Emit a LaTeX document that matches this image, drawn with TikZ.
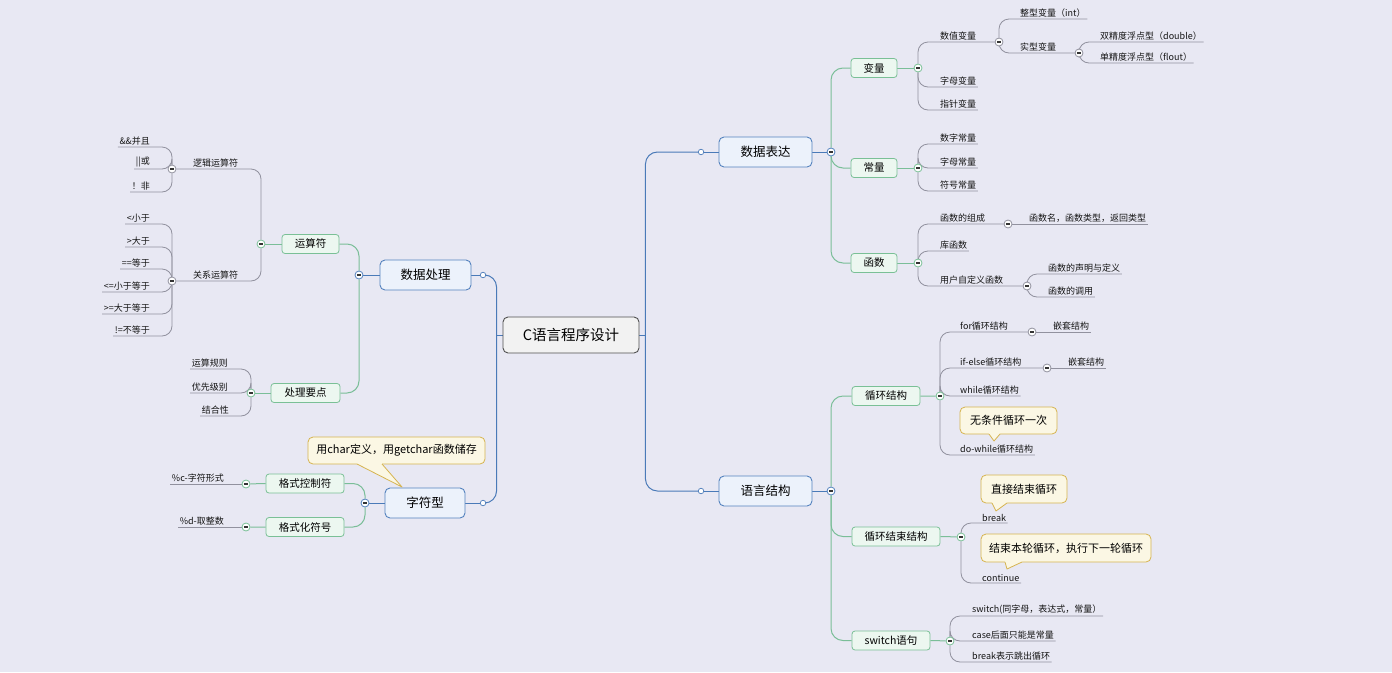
\documentclass[tikz,border=0pt]{standalone}
\usepackage{fontspec}
\setmainfont{Noto Sans CJK SC}
\usepackage{tikz}
\usetikzlibrary{positioning,calc}
\pgfdeclarelayer{bg}
\pgfdeclarelayer{wires}
\pgfsetlayers{bg,wires,main}

\definecolor{canvas}{RGB}{232,232,243}
\definecolor{blueline}{RGB}{74,122,184}
\definecolor{bluefill}{RGB}{236,242,251}
\definecolor{bluebd}{RGB}{84,130,190}
\definecolor{rootfill}{RGB}{242,242,242}
\definecolor{rootbd}{RGB}{80,80,80}
\definecolor{greenline}{RGB}{122,190,152}
\definecolor{greenfill}{RGB}{236,247,240}
\definecolor{greenbd}{RGB}{122,192,150}
\definecolor{grayline}{RGB}{145,145,158}
\definecolor{notefill}{RGB}{251,247,228}
\definecolor{noteline}{RGB}{214,180,80}

\tikzset{
  root/.style={draw=rootbd, fill=rootfill, rounded corners=5pt, line width=0.9pt,
    minimum width=136pt, minimum height=36pt, font=\fontsize{14.5}{16}\selectfont},
  topic/.style={draw=bluebd, fill=bluefill, rounded corners=5pt, line width=0.9pt,
    minimum height=30pt, inner sep=0pt, font=\fontsize{12.5}{14}\selectfont},
  sub/.style={draw=greenbd, fill=greenfill, rounded corners=3pt, line width=0.8pt,
    minimum height=19pt, inner sep=0pt, font=\fontsize{10.5}{12}\selectfont},
  leaf/.style={inner sep=1.5pt, font=\fontsize{9}{10}\selectfont, text=black!92},
  note/.style={draw=noteline, fill=notefill, rounded corners=5pt, line width=0.8pt,
    inner sep=0pt, outer sep=0pt, font=\fontsize{11}{12}\selectfont},
  fold/.style={circle, draw=#1, fill=white, line width=0.8pt, inner sep=0pt, minimum size=8pt,
    path picture={\draw[line width=1.2pt, black!80]
      ([xshift=-2.1pt]path picture bounding box.center) -- ([xshift=2.1pt]path picture bounding box.center);}},
  fold/.default=grayline,
  ring/.style={circle, draw=blueline, fill=white, line width=0.7pt, inner sep=0pt, minimum size=5.5pt},
  mainwire/.style={draw=blueline, line width=1pt, rounded corners=12pt},
  subwire/.style={draw=greenline, line width=1pt, rounded corners=12pt},
  leafwire/.style={draw=grayline, line width=0.8pt, rounded corners=10pt},
}

% tail of a note: node, left and right base offsets, tip
\newcommand{\notetail}[4]{%
  \fill[notefill] ([xshift=#2]#1.south west) -- (#4) -- ([xshift=#3]#1.south west)
    -- ([xshift=#3,yshift=1.5pt]#1.south west) -- ([xshift=#2,yshift=1.5pt]#1.south west) -- cycle;
  \draw[noteline, line width=0.8pt, line join=round]
    ([xshift=#2]#1.south west) -- (#4) -- ([xshift=#3]#1.south west);
}

\begin{document}
\begin{tikzpicture}[x=1pt,y=-1pt]
  \useasboundingbox (0,0) rectangle (1392,672);
  \begin{pgfonlayer}{bg}
    \fill[canvas] (0,0) rectangle (1392,672);
  \end{pgfonlayer}

  % centre and main topics
  \node[root] (root) at (571,335) {C语言程序设计};
  \node[topic, minimum width=93pt] (expr) at (765.5,152) {数据表达};
  \node[topic, minimum width=93pt] (lang) at (765.5,491) {语言结构};
  \node[topic, minimum width=91pt] (proc) at (425.5,275) {数据处理};
  \node[topic, minimum width=80pt] (char) at (425,503) {字符型};
  \node[ring] (rExpr) at (701,152) {};
  \node[ring] (rLang) at (701,491) {};
  \node[ring] (rProc) at (483,275) {};
  \node[ring] (rChar) at (483,503) {};
  \node[fold=bluebd] (fExpr) at (831,152) {};
  \node[fold=bluebd] (fLang) at (831,491) {};
  \node[fold=bluebd] (fProc) at (359,275) {};
  \node[fold=bluebd] (fChar) at (365,503) {};

  % second level
  \node[sub, minimum width=46pt] (var) at (874,68) {变量};
  \node[sub, minimum width=46pt] (const) at (874,168) {常量};
  \node[sub, minimum width=46pt] (func) at (874,263) {函数};
  \node[sub, minimum width=68pt] (loop) at (886,396) {循环结构};
  \node[sub, minimum width=88pt] (brk) at (896,536.5) {循环结束结构};
  \node[sub, minimum width=78pt] (sw) at (891,640.5) {switch语句};
  \node[sub, minimum width=57pt] (op) at (310.5,244) {运算符};
  \node[sub, minimum width=69pt] (key) at (305.5,393) {处理要点};
  \node[sub, minimum width=78pt] (ctl) at (305,483.5) {格式控制符};
  \node[sub, minimum width=78pt] (sym) at (305,527) {格式化符号};
  \node[fold=greenbd] (fVar) at (918,68) {};
  \node[fold=greenbd] (fConst) at (918,168) {};
  \node[fold=greenbd] (fFunc) at (918,263) {};
  \node[fold=greenbd] (fLoop) at (940,396) {};
  \node[fold=greenbd] (fEnd) at (961,537) {};
  \node[fold=greenbd] (fSw) at (950,641) {};
  \node[fold=greenbd] (fOp) at (261,244) {};
  \node[fold=greenbd] (fKey) at (251,393) {};
  \node[fold=greenbd] (fCtl) at (246,484) {};
  \node[fold=greenbd] (fSym) at (246,527) {};

  % third level with children
  \node[fold] (fNum) at (999,42) {};
  \node[fold] (fReal) at (1079,53) {};
  \node[fold] (fComp) at (1008,224) {};
  \node[fold] (fUser) at (1027,286) {};
  \node[fold] (fFor) at (1032,332) {};
  \node[fold] (fIf) at (1047,368) {};
  \node[fold] (fLogic) at (172,169) {};
  \node[fold] (fRel) at (172,281) {};
  \node[leaf, anchor=south west] (numvar) at (938.5,42) {数值变量};
  \node[leaf, anchor=south west] (realvar) at (1018.5,53) {实型变量};
  \node[leaf, anchor=south west] (comp) at (938.5,224) {函数的组成};
  \node[leaf, anchor=south west] (user) at (938.5,286) {用户自定义函数};
  \node[leaf, anchor=south west] (forl) at (958.5,332) {for循环结构};
  \node[leaf, anchor=south west] (ifl) at (958.5,368) {if-else循环结构};
  \node[leaf, anchor=south west] (logic) at (191.5,169) {逻辑运算符};
  \node[leaf, anchor=south west] (rel) at (191.5,281) {关系运算符};

  % leaves on the right
  \node[leaf, anchor=south west] (lInt) at (1018.5,19) {整型变量（int）};
  \node[leaf, anchor=south west] (lDbl) at (1098.5,42) {双精度浮点型（double）};
  \node[leaf, anchor=south west] (lFlt) at (1098.5,63) {单精度浮点型（flout）};
  \node[leaf, anchor=south west] (lAlpha) at (938.5,87) {字母变量};
  \node[leaf, anchor=south west] (lPtr) at (938.5,110) {指针变量};
  \node[leaf, anchor=south west] (lNumc) at (938.5,144) {数字常量};
  \node[leaf, anchor=south west] (lAlc) at (938.5,168) {字母常量};
  \node[leaf, anchor=south west] (lSymc) at (938.5,191) {符号常量};
  \node[leaf, anchor=south west] (lName) at (1027.5,224) {函数名，函数类型，返回类型};
  \node[leaf, anchor=south west] (lLib) at (938.5,251) {库函数};
  \node[leaf, anchor=south west] (lDecl) at (1046.5,274) {函数的声明与定义};
  \node[leaf, anchor=south west] (lCall) at (1046.5,297) {函数的调用};
  \node[leaf, anchor=south west] (lNest1) at (1051.5,332) {嵌套结构};
  \node[leaf, anchor=south west] (lNest2) at (1066.5,368) {嵌套结构};
  \node[leaf, anchor=south west] (lWhile) at (958.5,396) {while循环结构};
  \node[leaf, anchor=south west] (lDo) at (958.5,455) {do-while循环结构};
  \node[leaf, anchor=south west] (lBreak) at (980.5,523) {break};
  \node[leaf, anchor=south west] (lCont) at (980.5,583) {continue};
  \node[leaf, anchor=south west] (lSwitch) at (970.5,616) {switch(同字母，表达式，常量）};
  \node[leaf, anchor=south west] (lCase) at (970.5,641) {case后面只能是常量};
  \node[leaf, anchor=south west] (lOut) at (970.5,662) {break表示跳出循环};

  % leaves on the left
  \node[leaf, anchor=south east] (lAnd) at (151.5,147) {\&\&并且};
  \node[leaf, anchor=south east] (lOr) at (151.5,169) {||或};
  \node[leaf, anchor=south east] (lNot) at (151.5,192) {！非};
  \node[leaf, anchor=south east] (lLt) at (151.5,224) {<小于};
  \node[leaf, anchor=south east] (lGt) at (151.5,247) {>大于};
  \node[leaf, anchor=south east] (lEq) at (151.5,269) {==等于};
  \node[leaf, anchor=south east] (lLe) at (151.5,292) {<=小于等于};
  \node[leaf, anchor=south east] (lGe) at (151.5,314) {>=大于等于};
  \node[leaf, anchor=south east] (lNe) at (151.5,336) {!=不等于};
  \node[leaf, anchor=south east] (lRule) at (229.5,369) {运算规则};
  \node[leaf, anchor=south east] (lPrio) at (229.5,393) {优先级别};
  \node[leaf, anchor=south east] (lAssoc) at (230.5,416) {结合性};
  \node[leaf, anchor=south east] (lFmtc) at (225.5,484) {\%c-字符形式};
  \node[leaf, anchor=south east] (lFmtd) at (225.5,527) {\%d-取整数};

  % connectors
  \begin{pgfonlayer}{wires}
    \draw[mainwire] (root.east) -- ++(6,0) coordinate (rj);
    \draw[mainwire] (rExpr) -| (rj) |- (rLang);
    \draw[mainwire] (rExpr) -- (expr.west) (rLang) -- (lang.west);
    \draw[mainwire] (expr.east) -- (fExpr) (lang.east) -- (fLang);
    \draw[mainwire] (root.west) -- ++(-6,0) coordinate (lj);
    \draw[mainwire] (rProc) -| (lj) |- (rChar);
    \draw[mainwire] (proc.east) -- (rProc) (char.east) -- (rChar);
    \draw[mainwire] (fProc) -- (proc.west) (fChar) -- (char.west);

    \draw[subwire] (fExpr) |- (var.west);
    \draw[subwire] (fExpr) |- (const.west);
    \draw[subwire] (fExpr) |- (func.west);
    \draw[subwire] (fLang) |- (loop.west);
    \draw[subwire] (fLang) |- (brk.west);
    \draw[subwire] (fLang) |- (sw.west);
    \draw[subwire] (fProc) |- (op.east);
    \draw[subwire] (fProc) |- (key.east);
    \draw[subwire] (fChar) |- (ctl.east);
    \draw[subwire] (fChar) |- (sym.east);
    \draw[subwire] (var.east) -- (fVar) (const.east) -- (fConst) (func.east) -- (fFunc);
    \draw[subwire] (loop.east) -- (fLoop) (brk.east) -- (fEnd) (sw.east) -- (fSw);
    \draw[subwire] (op.west) -- (fOp) (key.west) -- (fKey);
    \draw[subwire] (ctl.west) -- (fCtl) (sym.west) -- (fSym);

    \draw[leafwire] (fVar) |- (fNum);
    \draw[leafwire] (fVar) |- (lAlpha.south east);
    \draw[leafwire] (fVar) |- (lPtr.south east);
    \draw[leafwire] (fNum) |- (lInt.south east);
    \draw[leafwire] (fNum) |- (fReal);
    \draw[leafwire] (fReal) |- (lDbl.south east);
    \draw[leafwire] (fReal) |- (lFlt.south east);
    \draw[leafwire] (fConst) |- (lNumc.south east);
    \draw[leafwire] (fConst) |- (lAlc.south east);
    \draw[leafwire] (fConst) |- (lSymc.south east);
    \draw[leafwire] (fFunc) |- (fComp);
    \draw[leafwire] (fFunc) |- (lLib.south east);
    \draw[leafwire] (fFunc) |- (fUser);
    \draw[leafwire] (fComp) -- (lName.south east);
    \draw[leafwire] (fUser) |- (lDecl.south east);
    \draw[leafwire] (fUser) |- (lCall.south east);
    \draw[leafwire] (fLoop) |- (fFor);
    \draw[leafwire] (fLoop) |- (fIf);
    \draw[leafwire] (fLoop) |- (lWhile.south east);
    \draw[leafwire] (fLoop) |- (lDo.south east);
    \draw[leafwire] (fFor) -- (lNest1.south east);
    \draw[leafwire] (fIf) -- (lNest2.south east);
    \draw[leafwire] (fEnd) |- (lBreak.south east);
    \draw[leafwire] (fEnd) |- (lCont.south east);
    \draw[leafwire] (fSw) |- (lSwitch.south east);
    \draw[leafwire] (fSw) |- (lCase.south east);
    \draw[leafwire] (fSw) |- (lOut.south east);

    \draw[leafwire] (fOp) |- (fLogic);
    \draw[leafwire] (fOp) |- (fRel);
    \draw[leafwire] (fLogic) |- (lAnd.south west);
    \draw[leafwire] (fLogic) |- (lOr.south west);
    \draw[leafwire] (fLogic) |- (lNot.south west);
    \draw[leafwire] (fRel) |- (lLt.south west);
    \draw[leafwire] (fRel) |- (lGt.south west);
    \draw[leafwire] (fRel) |- (lEq.south west);
    \draw[leafwire] (fRel) |- (lLe.south west);
    \draw[leafwire] (fRel) |- (lGe.south west);
    \draw[leafwire] (fRel) |- (lNe.south west);
    \draw[leafwire] (fKey) |- (lRule.south west);
    \draw[leafwire] (fKey) |- (lPrio.south west);
    \draw[leafwire] (fKey) |- (lAssoc.south west);
    \draw[leafwire] (fCtl) -- (lFmtc.south west);
    \draw[leafwire] (fSym) -- (lFmtd.south west);
  \end{pgfonlayer}

  % notes
  \node[note, minimum width=97pt, minimum height=27pt] (nOnce) at (1008.5,420.5) {无条件循环一次};
  \node[note, minimum width=86pt, minimum height=28pt] (nStop) at (1024,489) {直接结束循环};
  \node[note, minimum width=170pt, minimum height=28pt] (nNext) at (1066,548) {结束本轮循环，执行下一轮循环};
  \node[note, minimum width=177pt, minimum height=27pt] (nChar) at (396.5,450.5) {用char定义，用getchar函数储存};
  \coordinate (tOnce) at (994,441);
  \coordinate (tStop) at (996,511);
  \coordinate (tNext) at (1007,569);
  \coordinate (tChar) at (402,487);
  \notetail{nOnce}{29pt}{40pt}{tOnce}
  \notetail{nStop}{11pt}{26pt}{tStop}
  \notetail{nNext}{24pt}{41pt}{tNext}
  \notetail{nChar}{49pt}{74pt}{tChar}
\end{tikzpicture}
\end{document}
